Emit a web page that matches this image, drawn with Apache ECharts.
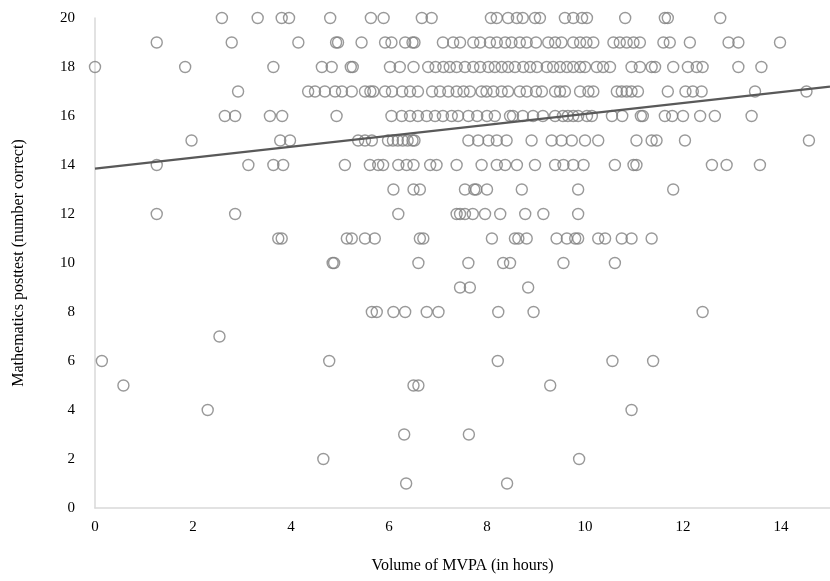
<!DOCTYPE html>
<html>
<head>
<meta charset="utf-8">
<script src="https://cdn.jsdelivr.net/npm/echarts@6/dist/echarts.min.js"></script>
<style>html,body{margin:0;padding:0;background:#fff}#c{width:830px;height:581px}</style>
</head>
<body>
<div id="c"></div>
<script>
// x values (hours of MVPA) for each posttest score
const row20 = [2.59,3.32,3.81,3.96,4.80,5.63,5.89,6.67,6.87,8.08,8.20,8.43,8.61,8.73,8.98,9.08,9.59,9.76,9.94,10.04,10.82,11.63,11.69,12.76];
const row19 = [1.26,2.79,4.15,4.92,4.96,5.44,5.92,6.05,6.33,6.48,6.52,7.10,7.31,7.45,7.72,7.86,8.06,8.20,8.37,8.50,8.67,8.81,9.00,9.25,9.39,9.52,9.76,9.90,10.03,10.17,10.58,10.71,10.85,10.99,11.12,11.60,11.73,12.14,12.93,13.13,13.98];
const row18 = [0.00,1.84,3.64,4.63,4.83,5.22,5.26,6.02,6.22,6.50,6.80,6.95,7.11,7.24,7.38,7.55,7.72,7.86,8.03,8.16,8.30,8.43,8.57,8.74,8.88,9.02,9.22,9.35,9.49,9.63,9.76,9.90,10.00,10.24,10.37,10.51,10.95,11.12,11.36,11.43,11.80,12.10,12.28,12.40,13.13,13.60];
const row17 = [2.92,4.35,4.49,4.69,4.90,5.04,5.24,5.51,5.62,5.68,5.92,6.06,6.27,6.43,6.59,6.88,7.04,7.21,7.38,7.52,7.65,7.89,7.99,8.13,8.30,8.43,8.67,8.81,9.00,9.12,9.39,9.49,9.59,9.90,10.07,10.17,10.65,10.75,10.85,10.95,11.08,11.69,12.05,12.20,12.38,13.47,14.52];
const row16 = [2.65,2.86,3.57,3.82,4.93,6.05,6.26,6.43,6.59,6.77,6.94,7.10,7.28,7.41,7.62,7.80,8.00,8.16,8.47,8.53,8.73,8.94,9.14,9.39,9.55,9.65,9.76,9.86,10.04,10.14,10.55,10.76,11.14,11.18,11.63,11.78,12.00,12.35,12.65,13.40];
const row15 = [1.97,3.78,3.98,5.37,5.51,5.65,5.98,6.08,6.18,6.28,6.38,6.48,6.52,7.62,7.82,8.03,8.20,8.40,8.91,9.32,9.52,9.73,10.00,10.27,11.05,11.36,11.46,12.04,14.57];
const row14 = [1.26,3.13,3.64,3.84,5.10,5.61,5.78,5.88,6.19,6.36,6.50,6.84,6.97,7.38,7.89,8.20,8.37,8.61,8.98,9.39,9.56,9.76,9.97,10.61,10.99,11.05,12.59,12.89,13.57];
const row13 = [6.09,6.50,6.63,7.55,7.74,7.78,8.00,8.71,9.86,11.80];
const row12 = [1.26,2.86,6.19,7.38,7.45,7.55,7.71,7.96,8.27,8.78,9.15,9.86];
const row11 = [3.74,3.81,5.14,5.24,5.51,5.71,6.63,6.70,8.10,8.57,8.64,8.81,9.42,9.63,9.80,9.86,10.27,10.41,10.75,10.95,11.36];
const row10 = [4.85,4.88,6.60,7.62,8.33,8.47,9.56,10.61];
const row9  = [7.45,7.65,8.84];
const row8  = [5.65,5.75,6.09,6.33,6.77,7.01,8.23,8.95,12.40];
const row7  = [2.54];
const row6  = [0.14,4.78,8.22,10.56,11.39];
const row5  = [0.58,6.50,6.60,9.29];
const row4  = [2.30,10.95];
const row3  = [6.31,7.63];
const row2  = [4.66,9.88];
const row1  = [6.35,8.41];
const scores = [20,19,18,17,16,15,14,13,12,11,10,9,8,7,6,5,4,3,2,1];
const rows = [row20,row19,row18,row17,row16,row15,row14,row13,row12,row11,row10,row9,row8,row7,row6,row5,row4,row3,row2,row1];

// linear trend line endpoints
const trendX = [0, 15];
const trendY = [13.85, 17.2];

const xTicks = [0,2,4,6,8,10,12,14];

const points = [];
rows.forEach((r, i) => r.forEach(x => points.push([x, scores[i]])));
const trend = trendX.map((x, i) => [x, trendY[i]]);

const serif = '"Liberation Serif","Times New Roman",serif';
const chart = echarts.init(document.getElementById('c'), null, {renderer: 'canvas'});
chart.setOption({
  animation: false,
  backgroundColor: '#fff',
  grid: {left: 95, right: 0, top: 18, bottom: 73, containLabel: false},
  xAxis: {
    type: 'value', min: 0, max: 15, interval: 2,
    name: 'Volume of MVPA (in hours)', nameLocation: 'middle', nameGap: 50,
    nameTextStyle: {fontFamily: serif, fontSize: 16, color: '#000'},
    axisLine: {show: true, lineStyle: {color: '#d9d9d9', width: 1.5}},
    axisTick: {show: false},
    splitLine: {show: false},
    axisLabel: {fontFamily: serif, fontSize: 15, color: '#000', margin: 12, showMaxLabel: false,
      formatter: v => xTicks.includes(v) ? String(v) : ''}
  },
  yAxis: {
    type: 'value', min: 0, max: 20, interval: 2,
    name: 'Mathematics posttest (number correct)', nameLocation: 'middle', nameGap: 68,
    nameTextStyle: {fontFamily: serif, fontSize: 16, color: '#000'},
    axisLine: {show: true, lineStyle: {color: '#d9d9d9', width: 1.5}},
    axisTick: {show: false},
    splitLine: {show: false},
    axisLabel: {fontFamily: serif, fontSize: 15, color: '#000', margin: 20}
  },
  series: [
    {
      type: 'scatter', data: points, symbol: 'circle', symbolSize: 11,
      itemStyle: {color: 'rgba(0,0,0,0)', borderColor: '#7f7f7f', borderWidth: 1.4},
      emphasis: {disabled: true}, silent: true
    },
    {
      type: 'line', data: trend, showSymbol: false, symbol: 'none',
      lineStyle: {color: '#595959', width: 2.2},
      emphasis: {disabled: true}, silent: true
    }
  ]
});
</script>
</body>
</html>
